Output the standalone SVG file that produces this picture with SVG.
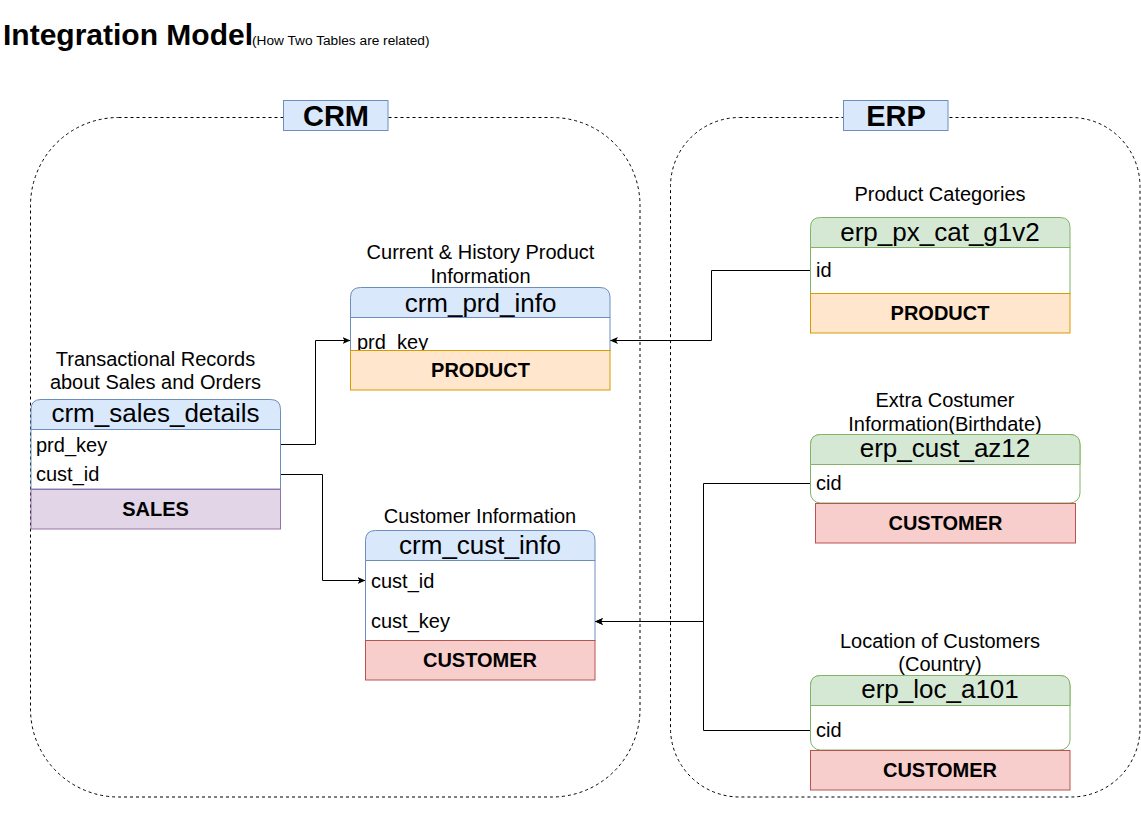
<svg xmlns="http://www.w3.org/2000/svg" width="1141" height="828" viewBox="0 0 1141 828">
<defs>
<style>
text{font-family:"Liberation Sans",Arial,Helvetica,sans-serif;fill:#000}
.ann{font-size:20px;text-anchor:middle}
.hdr{font-size:26px;text-anchor:middle}
.fld{font-size:20px}
.row{font-size:20px;font-weight:bold;text-anchor:middle}
.grp{font-size:29px;font-weight:bold;text-anchor:middle}
.cont{fill:none;stroke:#000;stroke-width:1;stroke-dasharray:3 3}
.lbl{fill:#dae8fc;stroke:#6c8ebf}
.bh{fill:#dae8fc;stroke:#6c8ebf}
.gh{fill:#d5e8d4;stroke:#82b366}
.body{fill:#fff}
.bb{stroke:#6c8ebf}
.gb{stroke:#82b366}
.purple{fill:#e1d5e7;stroke:#9673a6}
.orange{fill:#ffe6cc;stroke:#d79b00}
.red{fill:#f8cecc;stroke:#b85450}
.edge{fill:none;stroke:#000;stroke-width:1}
</style>
<marker id="arr" viewBox="0 0 8 8" refX="7.5" refY="4" markerWidth="8" markerHeight="8" markerUnits="userSpaceOnUse" orient="auto">
<path d="M0,0.5 L8,4 L0,7.5 L2,4 Z" fill="#000"/>
</marker>
</defs>

<g id="title">
<text x="3" y="45" style="font-size:30px;font-weight:bold">Integration Model</text>
<text x="252" y="45" style="font-size:13.7px">(How Two Tables are related)</text>
</g>

<g id="crm-group">
<rect class="cont" x="30.5" y="117.5" width="609.5" height="679.5" rx="88" ry="88"/>
<rect class="lbl" x="283.5" y="100.5" width="104.5" height="30"/>
<text class="grp" x="336" y="126">CRM</text>
</g>

<g id="erp-group">
<rect class="cont" x="670.5" y="117.5" width="469.5" height="679.5" rx="69" ry="69"/>
<rect class="lbl" x="843.5" y="100.5" width="104.5" height="30"/>
<text class="grp" x="896" y="126">ERP</text>
</g>

<g id="crm_sales_details">
<text class="ann" x="155.5" y="366">Transactional Records</text>
<text class="ann" x="155.5" y="389">about Sales and Orders</text>
<rect class="body bb" x="31" y="429.5" width="249.5" height="59.5"/>
<path class="bh" d="M31,429.5 V409.5 Q31,399.5 41,399.5 H270.5 Q280.5,399.5 280.5,409.5 V429.5 Z"/>
<text class="hdr" x="155.5" y="422">crm_sales_details</text>
<text class="fld" x="36" y="452">prd_key</text>
<text class="fld" x="36" y="481">cust_id</text>
<rect class="purple" x="31" y="489.5" width="249.5" height="39.5"/>
<text class="row" x="155.5" y="516">SALES</text>
</g>

<g id="crm_prd_info">
<text class="ann" x="480.5" y="259">Current &amp; History Product</text>
<text class="ann" x="480.5" y="283">Information</text>
<rect class="body bb" x="350.5" y="317.5" width="259.5" height="33"/>
<path class="bh" d="M350.5,317.5 V297.5 Q350.5,287.5 360.5,287.5 H600 Q610,287.5 610,297.5 V317.5 Z"/>
<text class="hdr" x="480.5" y="312">crm_prd_info</text>
<text class="fld" x="357" y="349">prd_key</text>
<rect class="orange" x="350.5" y="350.5" width="259.5" height="39.5"/>
<text class="row" x="480.5" y="377">PRODUCT</text>
</g>

<g id="crm_cust_info">
<text class="ann" x="480" y="523">Customer Information</text>
<rect class="body bb" x="365.5" y="560.5" width="229.5" height="80"/>
<path class="bh" d="M365.5,560.5 V540.5 Q365.5,530.5 375.5,530.5 H585 Q595,530.5 595,540.5 V560.5 Z"/>
<text class="hdr" x="480" y="554">crm_cust_info</text>
<text class="fld" x="371" y="588">cust_id</text>
<text class="fld" x="371" y="628">cust_key</text>
<rect class="red" x="365.5" y="640.5" width="229.5" height="39.5"/>
<text class="row" x="480" y="667">CUSTOMER</text>
</g>

<g id="erp_px_cat_g1v2">
<text class="ann" x="940" y="201">Product Categories</text>
<rect class="body gb" x="810.5" y="247.5" width="259.5" height="46"/>
<path class="gh" d="M810.5,247.5 V227.5 Q810.5,217.5 820.5,217.5 H1060 Q1070,217.5 1070,227.5 V247.5 Z"/>
<text class="hdr" x="940" y="241">erp_px_cat_g1v2</text>
<text class="fld" x="816" y="277">id</text>
<rect class="orange" x="810.5" y="293.5" width="259.5" height="39.5"/>
<text class="row" x="940" y="320">PRODUCT</text>
</g>

<g id="erp_cust_az12">
<text class="ann" x="945" y="407">Extra Costumer</text>
<text class="ann" x="945" y="431">Information(Birthdate)</text>
<rect class="body gb" x="810.5" y="434.5" width="269.5" height="68.5" rx="10" ry="10"/>
<path class="gh" d="M810.5,464.5 V444.5 Q810.5,434.5 820.5,434.5 H1070 Q1080,434.5 1080,444.5 V464.5 Z"/>
<text class="hdr" x="945" y="457">erp_cust_az12</text>
<text class="fld" x="816" y="490">cid</text>
<rect class="red" x="815.5" y="503.5" width="260" height="39.5"/>
<text class="row" x="945.5" y="530">CUSTOMER</text>
</g>

<g id="erp_loc_a101">
<text class="ann" x="940" y="648">Location of Customers</text>
<text class="ann" x="940" y="671">(Country)</text>
<rect class="body gb" x="810.5" y="675.5" width="259.5" height="74.5" rx="10" ry="10"/>
<path class="gh" d="M810.5,705.5 V685.5 Q810.5,675.5 820.5,675.5 H1060 Q1070,675.5 1070,685.5 V705.5 Z"/>
<text class="hdr" x="940" y="698">erp_loc_a101</text>
<text class="fld" x="816" y="737">cid</text>
<rect class="red" x="810.5" y="750.5" width="259.5" height="39.5"/>
<text class="row" x="940" y="777">CUSTOMER</text>
</g>

<g id="connectors">
<path class="edge" d="M281,444.5 H315.5 V340.5 H350" marker-end="url(#arr)"/>
<path class="edge" d="M281,474.5 H322.5 V580.5 H365" marker-end="url(#arr)"/>
<path class="edge" d="M810,270.5 H711.5 V340.5 H610.5" marker-end="url(#arr)"/>
<path class="edge" d="M810,483.5 H703.5 V621.5 H595.5" marker-end="url(#arr)"/>
<path class="edge" d="M810,730.5 H703.5 V621.5 H595.5" marker-end="url(#arr)"/>
</g>
</svg>
